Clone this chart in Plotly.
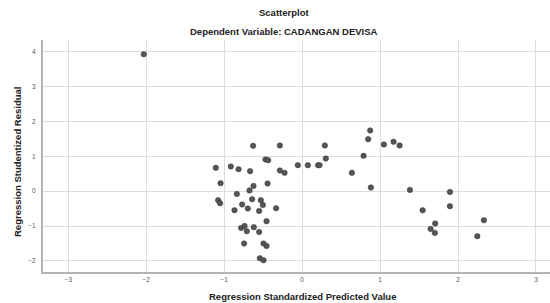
import plotly.graph_objects as go

predicted = [-0.629, -0.286, -0.470, -0.436, -1.108, -0.915, -0.816, -0.668, -0.286, -0.226,
             -0.055, 0.073, 0.205, 0.223, 0.291, 0.304, 0.638, 0.788, 0.847, 0.873,
             0.882, -1.047, -0.444, -0.624, -0.675, -0.838, -1.078, -1.053, -0.642, -0.530,
             -0.504, -0.770, -0.697, -0.868, -0.552, -0.334, -0.457, -0.783, -0.739, -0.710,
             -0.620, -0.552, -0.745, -0.496, -0.457, -0.543, -0.496, 1.049, 1.173, 1.250,
             1.383, 1.896, 1.546, 1.896, 1.707, 1.648, 1.703, 2.332, 2.247, -2.032]
residual = [1.302, 1.313, 0.911, 0.891, 0.670, 0.710, 0.632, 0.575, 0.595, 0.526,
            0.747, 0.747, 0.747, 0.747, 1.313, 0.940, 0.526, 1.014, 1.494, 1.744,
            0.106, 0.230, 0.221, 0.152, 0.020, -0.078, -0.259, -0.345, -0.230, -0.259,
            -0.394, -0.382, -0.497, -0.546, -0.566, -0.489, -0.862, -1.055, -0.997, -1.149,
            -1.034, -1.170, -1.503, -1.503, -1.572, -1.925, -1.983, 1.342, 1.417, 1.313,
            0.037, -0.020, -0.546, -0.431, -0.928, -1.083, -1.198, -0.833, -1.293, 3.928]

x_ticks = [-3, -2, -1, 0, 1, 2, 3]
y_ticks = [-2, -1, 0, 1, 2, 3, 4]

FONT = "Liberation Sans, Arial, sans-serif"

fig = go.Figure()
fig.add_trace(go.Scatter(
    x=predicted, y=residual, mode="markers",
    marker=dict(size=5.5, color="#555555", line=dict(color="#3a3a3a", width=0.5)),
    hoverinfo="skip", showlegend=False,
))

L, R, T, B = 43, 0, 40, 31
W, H = 550, 303
pw, ph = W - L - R, H - T - B

def px_x(px):
    return (px - L) / pw

def px_y(py):
    return (H - B - py) / ph

axis_common = dict(
    showgrid=True, gridcolor="#dcdcdc", gridwidth=1,
    showline=True, linecolor="#b4b4b4", linewidth=2,
    zeroline=False, ticks="", tickfont=dict(family=FONT, size=6.5, color="#555555"),
)

fig.update_layout(
    width=W, height=H,
    margin=dict(l=L, r=R, t=T, b=B),
    paper_bgcolor="white", plot_bgcolor="white",
    xaxis=dict(range=[-3.325, 3.18], tickvals=x_ticks, **axis_common),
    yaxis=dict(range=[-2.32, 4.34], tickvals=y_ticks, ticklabelstandoff=4, **axis_common),
    annotations=[
        dict(text="Scatterplot", x=px_x(284), y=px_y(12), xref="paper", yref="paper",
             showarrow=False, xanchor="center", yanchor="middle",
             font=dict(family=FONT, size=9.5, color="#222222", weight="bold")),
        dict(text="Dependent Variable: CADANGAN DEVISA", x=px_x(284), y=px_y(31),
             xref="paper", yref="paper", showarrow=False, xanchor="center", yanchor="middle",
             font=dict(family=FONT, size=9.5, color="#222222", weight="bold")),
        dict(text="Regression Standardized Predicted Value", x=px_x(302), y=px_y(296),
             xref="paper", yref="paper", showarrow=False, xanchor="center", yanchor="middle",
             font=dict(family=FONT, size=9.5, color="#222222", weight="bold")),
        dict(text="Regression Studentized Residual", x=px_x(17), y=px_y(162),
             xref="paper", yref="paper", showarrow=False, xanchor="center", yanchor="middle",
             textangle=-90,
             font=dict(family=FONT, size=9.5, color="#222222", weight="bold")),
    ],
)

fig.write_html("out.html", config={"displayModeBar": False, "staticPlot": True},
               post_script="document.body.style.margin='0';")
